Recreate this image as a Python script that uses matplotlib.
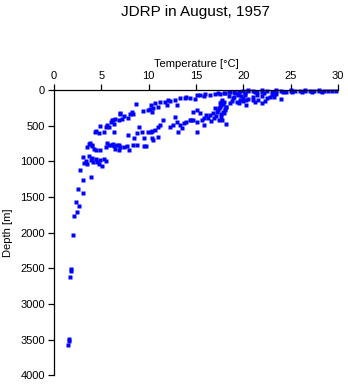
import matplotlib
matplotlib.use("Agg")
import matplotlib.pyplot as plt

plt.rcParams["font.family"] = ["Liberation Sans", "DejaVu Sans"]

# temperature [deg C] and depth [m]
surface_t = [18.5, 19.0, 19.5, 20.0, 20.5, 21.0, 21.5, 22.0, 22.5, 23.0, 23.5, 24.0,
             24.5, 25.0, 25.5, 26.0, 26.5, 27.0, 27.5, 28.0, 28.5, 29.0, 29.4, 29.8,
             20.2, 21.2, 22.2, 23.3, 24.2, 25.2, 26.2, 27.3, 28.3,
             20.5, 22.0, 23.5, 25.0, 26.5, 28.0]
surface_d = [30, 25, 20, 15, 10, 12, 20, 25, 15, 20, 10, 15,
             20, 10, 15, 12, 10, 15, 10, 12, 10, 15, 10, 12,
             35, 30, 40, 35, 25, 30, 28, 25, 20,
             2, 0, 3, 0, 2, 0]

mixed_t = [20.2, 20.5, 21.0, 21.6, 22.3, 22.8, 24.0, 20.3, 20.3, 19.6, 19.1, 18.6,
           18.1, 20.0, 19.3, 18.9, 18.6, 21.5, 22.0, 23.0, 23.5, 19.8, 21.2, 19.7,
           18.5, 19.0, 19.4, 20.0, 18.8, 19.5, 21.0, 22.5, 23.3, 22.0]
mixed_d = [70, 117, 94, 140, 154, 94, 117, 211, 140, 28, 42, 28,
           42, 112, 159, 112, 183, 60, 75, 60, 50, 85, 160, 130,
           80, 100, 60, 150, 150, 180, 130, 110, 100, 180]

upper_t = [17.5, 17.0, 16.5, 15.9, 15.4, 14.9, 14.4, 13.8, 13.3, 12.8, 12.3, 11.7,
           11.2, 10.7, 10.3, 11.9, 10.5, 11.0, 13.0, 8.7, 9.4, 9.9, 10.2, 10.4,
           8.2, 8.4, 7.0, 7.4, 7.8, 6.2, 6.5, 6.9, 7.2, 6.0, 6.3, 4.9, 5.5, 5.8,
           6.3, 4.4, 4.75, 5.3, 4.3, 5.6, 6.1, 7.0, 8.0, 15.1, 14.0, 12.0, 16.0,
           17.3, 18.0]
upper_d = [56, 56, 66, 75, 66, 122, 103, 112, 112, 136, 150, 159,
           159, 183, 206, 206, 253, 229, 206, 197, 290, 275, 260, 300,
           309, 337, 323, 356, 384, 417, 405, 417, 405, 450, 477, 496, 510, 510,
           590, 571, 604, 590, 585, 491, 412, 328, 328, 70, 95, 130, 50,
           45, 40]

lower_t = [18.2, 17.7, 17.5, 17.2, 16.8, 16.5, 16.3, 17.7, 17.4, 18.1, 18.2, 17.0,
           17.9, 17.5, 18.0, 14.7, 15.1, 15.4, 15.9, 15.6, 15.1, 14.5, 14.0, 13.7,
           13.3, 12.96, 12.8, 15.9, 15.1, 14.4, 16.1, 14.7, 11.5, 11.0, 10.7, 10.3,
           11.2, 12.3, 12.6, 13.1, 13.5, 10.5, 11.0, 9.0, 8.8, 9.3, 9.9, 10.4,
           7.8, 8.5, 9.5, 10.4, 3.8, 4.05, 3.5, 5.6, 6.0, 6.3, 6.9, 7.4, 7.7, 8.3,
           8.8, 9.5, 3.7, 4.0, 4.2, 4.4, 4.9, 5.5, 5.8, 6.2, 6.5, 6.7, 7.0, 7.9,
           6.9, 9.7,
           17.8, 18.0, 17.6, 18.1, 17.3, 17.9, 17.6, 17.1, 16.9, 17.8, 18.2, 16.6, 17.4]
lower_d = [234, 159, 229, 300, 323, 346, 393, 370, 417, 276, 229, 253,
           200, 180, 320, 300, 276, 323, 393, 417, 440, 417, 440, 463,
           487, 440, 370, 487, 580, 417, 351, 421, 417, 510, 557, 580,
           487, 510, 487, 580, 533, 697, 650, 510, 604, 590, 590, 571,
           627, 674, 674, 674, 744, 777, 791, 744, 770, 780, 775, 790, 780, 775,
           772, 786, 749, 765, 819, 833, 842, 796, 772, 758, 819, 772, 796, 842,
           842, 786,
           140, 160, 210, 260, 280, 300, 330, 360, 390, 420, 470, 430, 250]

deep_t = [3.1, 3.35, 3.2, 3.7, 4.05, 4.4, 4.6, 4.9, 5.3, 4.15, 4.75, 5.1, 3.5,
          3.9, 5.45, 2.8, 3.9, 3.1, 2.5, 3.1, 2.35, 2.67, 2.46, 2.15, 2.04,
          1.76, 1.83, 1.72, 1.55, 1.58, 1.51]
deep_d = [936, 992, 1020, 927, 945, 959, 1006, 983, 959, 1006, 1039, 1067, 1030,
          983, 992, 1114, 1217, 1264, 1390, 1437, 1572, 1629, 1703, 1760, 2026,
          2504, 2536, 2621, 3487, 3519, 3571]

temps = surface_t + mixed_t + upper_t + lower_t + deep_t
depths = surface_d + mixed_d + upper_d + lower_d + deep_d

fig = plt.figure(figsize=(3.48, 3.84), dpi=100)
ax = fig.add_axes([0.155, 0.023, 0.816, 0.742])
ax.plot(temps, depths, "s", ms=2.4, mec="none", color="#0000ff",
        antialiased=False, clip_on=False)

ax.set_xlim(0, 30)
ax.set_ylim(4000, 0)
ax.set_xticks([0, 5, 10, 15, 20, 25, 30])
ax.set_yticks(range(0, 4001, 500))
ax.xaxis.tick_top()
ax.xaxis.set_label_position("top")
ax.spines[["right", "bottom"]].set_visible(False)
for s in ("left", "top"):
    ax.spines[s].set_linewidth(0.9)
ax.tick_params(direction="out", length=4, width=0.9, labelsize=8, pad=2.5)
ax.set_xlabel("Temperature [\u00b0C]", fontsize=8, labelpad=3)
ax.set_ylabel("Depth [m]", fontsize=8, labelpad=5)
fig.text(0.563, 0.968, "JDRP in August, 1957", fontsize=11, ha="center", va="center")

fig.savefig("out.png", dpi=100)
